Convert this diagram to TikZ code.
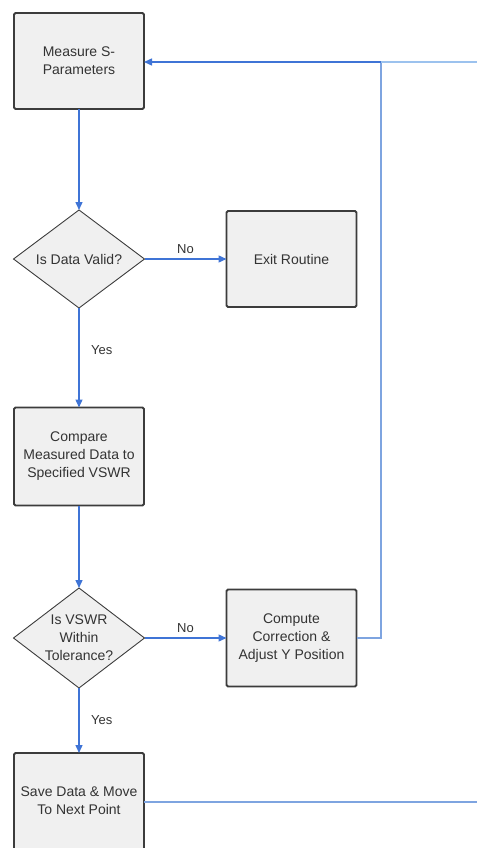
\documentclass[tikz,border=0pt]{standalone}
\usepackage{fontspec}
\setmainfont{Liberation Sans}
\usetikzlibrary{shapes.geometric,arrows.meta}
\definecolor{lineblue}{HTML}{3F74D6}
\definecolor{lightblue}{HTML}{9CC2EE}
\definecolor{midblue}{HTML}{7EA4E0}
\definecolor{boxfill}{HTML}{F0F0F0}
\definecolor{boxdraw}{HTML}{3C3C3C}
\definecolor{txtcol}{HTML}{333333}
\tikzset{
  x=1pt, y=-1pt,
  procbox/.style={draw=boxdraw, line width=1.8pt, fill=boxfill, rounded corners=1.5pt,
    minimum width=130pt, minimum height=96pt, inner sep=0pt, outer sep=0pt},
  decbox/.style={draw=boxdraw, line width=0.9pt, fill=boxfill, diamond,
    minimum width=131pt, minimum height=98pt, inner sep=0pt, outer sep=0pt},
  txt/.style={text=txtcol, font=\fontsize{14}{18}\selectfont, align=center},
  flow/.style={draw=lineblue, line width=1.4pt, -{Triangle[length=8pt,width=7pt]}},
  plain/.style={draw=lineblue, line width=1.4pt},
  lbl/.style={text=txtcol, font=\fontsize{13}{15}\selectfont}
}
\begin{document}
\begin{tikzpicture}
\useasboundingbox (0,0) rectangle (477,848);
\clip (0,0) rectangle (477,848);
\node[procbox] (meas) at (79,61) {};
\node[txt] at (meas.center) {Measure S-\\Parameters};
\node[decbox] (valid) at (79,259) {};
\node[txt] at (valid.center) {Is Data Valid?};
\node[procbox] (exit) at (291.5,259) {};
\node[txt] at (exit.center) {Exit Routine};
\node[procbox, minimum height=98pt] (comp) at (79,456.5) {};
\node[txt] at (comp.center) {Compare\\Measured Data to\\Specified VSWR};
\node[decbox, minimum height=100pt] (tol) at (79,638) {};
\node[txt] at (tol.center) {Is VSWR\\Within\\Tolerance?};
\node[procbox, minimum height=97pt] (corr) at (291.5,638) {};
\node[txt] at (corr.center) {Compute\\Correction \&\\Adjust Y Position};
\node[procbox, minimum height=110pt] (save) at (79,808) {};
\node[txt, anchor=center] at (79,801) {Save Data \& Move\\To Next Point};
\coordinate (jn) at (381,62);
\coordinate (jr) at (477,62);
\coordinate (sr) at (477,802);
\path[flow] (meas.south) -- (valid.north);
\path[flow] (valid.east) -- node[lbl, above=1pt] {No} (exit.west);
\path[flow] (valid.south) -- node[lbl, pos=0.42, right=8pt] {Yes} (comp.north);
\path[flow] (comp.south) -- (tol.north);
\path[flow] (tol.east) -- node[lbl, above=1pt] {No} (corr.west);
\path[flow] (tol.south) -- node[lbl, pos=0.5, right=8pt] {Yes} (save.north);
\path[plain, draw=midblue] (corr.east) -| (jn);
\path[flow] (jn) -- (meas.east |- jn);
\path[plain, draw=lightblue] (jn) -- (jr);
\path[plain, draw=midblue] (save.east |- sr) -- (sr);
\end{tikzpicture}
\end{document}
